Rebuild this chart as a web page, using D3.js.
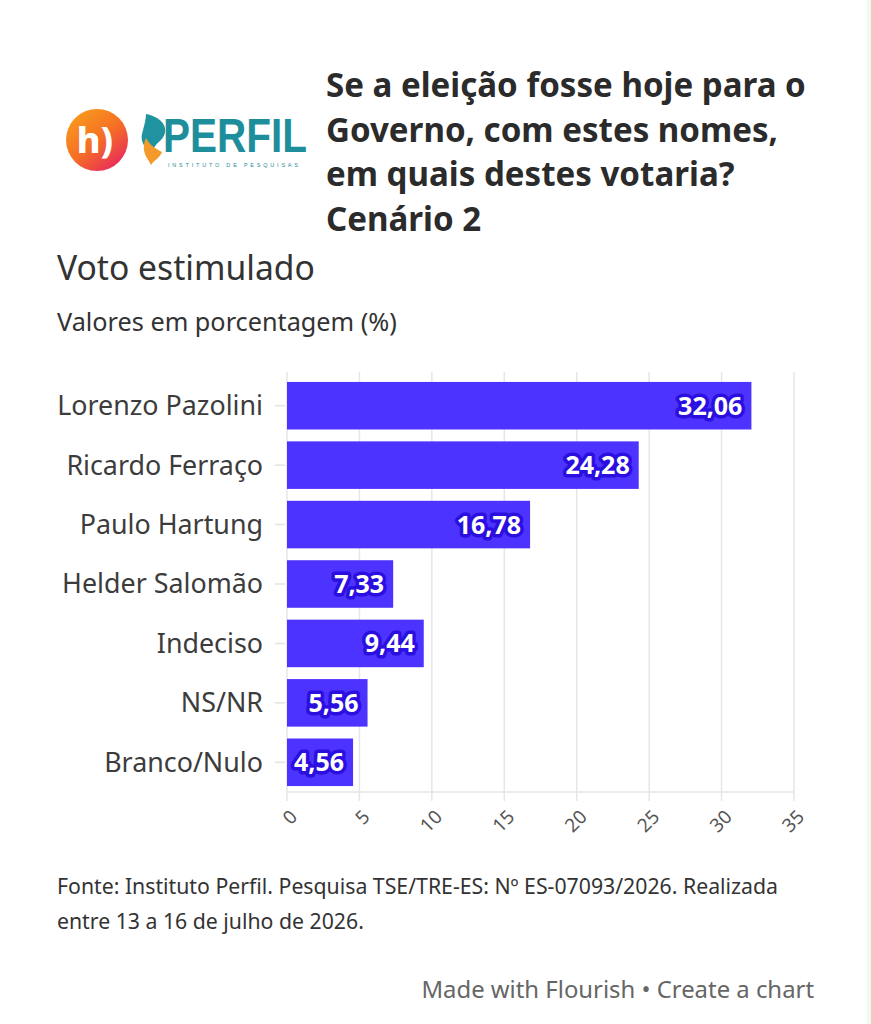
<!DOCTYPE html>
<html>
<head>
<meta charset="utf-8">
<script src="https://cdn.jsdelivr.net/npm/d3@7"></script>
<style>
  body { margin: 0; background: #fff; }
  svg { display: block; }
  .grid line { stroke: #e6e6e6; stroke-width: 1.5; }
  .cat { fill: #3c3c3c; font-family: "Noto Sans", sans-serif; }
  .tick-lbl { fill: #555; font-family: "Noto Sans", sans-serif; }
  .val { font-family: "Noto Sans", sans-serif; font-weight: 700; }
</style>
</head>
<body>
<div id="chart"></div>
<script>
// data
var candidates = ["Lorenzo Pazolini", "Ricardo Ferraço", "Paulo Hartung", "Helder Salomão", "Indeciso", "NS/NR", "Branco/Nulo"];
var votes = [32.06, 24.28, 16.78, 7.33, 9.44, 5.56, 4.56];
var xTicks = [0, 5, 10, 15, 20, 25, 30, 35];

var titleLines = ["Se a eleição fosse hoje para o", "Governo, com estes nomes,", "em quais destes votaria?", "Cenário 2"];
var footLines = ["Fonte: Instituto Perfil. Pesquisa TSE/TRE-ES: Nº ES-07093/2026. Realizada", "entre 13 a 16 de julho de 2026."];

var w = 871, h = 1024;
var barColor = "#4d33ff";

var svg = d3.select("#chart")
    .append("svg")
    .attr("width", w)
    .attr("height", h);

svg.append("rect").attr("width", w).attr("height", h).attr("fill", "#fff");
// faint green strip on the right edge
svg.append("rect").attr("x", w - 4).attr("width", 4).attr("height", h).attr("fill", "#eefbec");

// shrink/grow a text so it spans a given width
function fitWidth(sel, target, size) {
    sel.style("font-size", size + "px");
    var len = sel.node().getComputedTextLength();
    var s = size * target / len;
    sel.style("font-size", s + "px");
    return s;
}

// ---- logo ----
var defs = svg.append("defs");
var grad = defs.append("linearGradient")
    .attr("id", "logoGrad")
    .attr("x1", "0%").attr("y1", "0%").attr("x2", "80%").attr("y2", "100%");
grad.append("stop").attr("offset", "0%").attr("stop-color", "#f9a51a");
grad.append("stop").attr("offset", "55%").attr("stop-color", "#f57024");
grad.append("stop").attr("offset", "100%").attr("stop-color", "#e8275f");

var logo = svg.append("g");
logo.append("circle").attr("cx", 97).attr("cy", 140).attr("r", 31).attr("fill", "url(#logoGrad)");
logo.append("text")
    .attr("x", 95).attr("y", 153)
    .attr("text-anchor", "middle")
    .attr("fill", "#fff")
    .style("font-family", "Noto Sans, sans-serif")
    .style("font-weight", 800)
    .style("font-size", "36px")
    .text("h)");

// flame: teal top, orange bottom
logo.append("path")
    .attr("d", "M146,114 C166,118 170,132 160,141 C154,146 152,150 154,152 C146,150 140,143 142,134 C144,126 146,120 146,114 Z")
    .attr("fill", "#1f93a0");
logo.append("path")
    .attr("d", "M146,138 C150,146 158,150 162,152 C160,158 154,160 151,165 C148,158 140,152 146,138 Z")
    .attr("fill", "#f39a2b");

logo.append("text")
    .attr("x", 163).attr("y", 152)
    .attr("fill", "#1e8e9c")
    .attr("textLength", 144)
    .attr("lengthAdjust", "spacingAndGlyphs")
    .style("font-family", "Liberation Sans Narrow, Liberation Sans, sans-serif")
    .style("font-weight", 700)
    .style("font-size", "48px")
    .text("PERFIL");

logo.append("text")
    .attr("x", 168).attr("y", 167)
    .attr("fill", "#2a8c96")
    .attr("textLength", 130)
    .attr("lengthAdjust", "spacing")
    .style("font-family", "Liberation Sans, sans-serif")
    .style("font-size", "5.5px")
    .text("INSTITUTO DE PESQUISAS");

// ---- title ----
var tsize = null;
titleLines.forEach(function(t, i) {
    var tt = svg.append("text")
        .attr("x", 326)
        .attr("y", 97 + i * 44.5)
        .attr("fill", "#2b2b2b")
        .style("font-family", "Noto Sans, sans-serif")
        .style("font-weight", 700)
        .text(t);
    if (i == 0) tsize = fitWidth(tt, 480, 30);
    else tt.style("font-size", tsize + "px");
});

// subtitle and note
var sub = svg.append("text")
    .attr("x", 57).attr("y", 280)
    .attr("fill", "#333")
    .style("font-family", "Noto Sans, sans-serif")
    .text("Voto estimulado");
fitWidth(sub, 258, 29);

var note = svg.append("text")
    .attr("x", 57).attr("y", 331)
    .attr("fill", "#333")
    .style("font-family", "Noto Sans, sans-serif")
    .text("Valores em porcentagem (%)");
fitWidth(note, 340, 21);

// ---- scales ----
var xScale = d3.scaleLinear()
    .domain([0, 35])
    .range([287, 794]);
var yScale = d3.scaleBand()
    .domain(candidates)
    .range([376, 792])
    .paddingInner(0.2)
    .paddingOuter(0.1);

// gridlines
var grid = svg.append("g").attr("class", "grid");
grid.selectAll("line")
    .data(xTicks)
    .enter()
    .append("line")
    .attr("x1", function(d) { return xScale(d); })
    .attr("x2", function(d) { return xScale(d); })
    .attr("y1", 372)
    .attr("y2", 801);
grid.append("line")
    .attr("x1", xScale(0)).attr("x2", xScale(35))
    .attr("y1", 792).attr("y2", 792);

// x axis (tick labels rotated)
var xAxis = d3.axisBottom(xScale).tickValues(xTicks).tickSize(0).tickPadding(0);
var xa = svg.append("g")
    .attr("transform", "translate(0,800)")
    .call(xAxis);
xa.select(".domain").remove();
xa.selectAll("text")
    .attr("class", "tick-lbl")
    .attr("fill", null)
    .style("font-size", "19px")
    .attr("text-anchor", "end")
    .attr("dy", null)
    .attr("y", 0)
    .attr("transform", "translate(11,18) rotate(-45)");

// y axis
var yAxis = d3.axisLeft(yScale).tickSize(10).tickPadding(12);
var ya = svg.append("g")
    .attr("transform", "translate(285,0)")
    .call(yAxis);
ya.select(".domain").remove();
ya.selectAll(".tick line").attr("stroke", "#e3e3e3").attr("stroke-width", 1.5);
ya.selectAll("text")
    .attr("class", "cat")
    .attr("fill", null)
    .attr("dy", "0.35em");
var catSize = null;
ya.selectAll("text").filter(function() { return this.textContent == candidates[0]; })
    .each(function() { catSize = fitWidth(d3.select(this), 206, 24); });
ya.selectAll("text").style("font-size", catSize + "px");

// bars
var bars = svg.append("g");
bars.selectAll("rect")
    .data(candidates)
    .enter()
    .append("rect")
    .attr("x", xScale(0))
    .attr("y", function(d) { return yScale(d); })
    .attr("width", function(d, i) { return xScale(votes[i]) - xScale(0); })
    .attr("height", yScale.bandwidth())
    .attr("fill", barColor);

// value labels with halo
var fmt = function(v) { return d3.format(".2f")(v).replace(".", ","); };
var vals = svg.append("g");
vals.selectAll("text")
    .data(candidates)
    .enter()
    .append("text")
    .attr("class", "val")
    .attr("x", function(d, i) { return xScale(votes[i]) - 9; })
    .attr("y", function(d) { return yScale(d) + yScale.bandwidth() / 2; })
    .attr("dy", "0.36em")
    .attr("text-anchor", "end")
    .style("font-size", "25px")
    .attr("fill", "#fff")
    .attr("stroke", "#2a0fe0")
    .attr("stroke-width", 7)
    .attr("stroke-linejoin", "round")
    .attr("paint-order", "stroke")
    .text(function(d, i) { return fmt(votes[i]); });

// footer
var fsize = null;
footLines.forEach(function(t, i) {
    var ft = svg.append("text")
        .attr("x", 57)
        .attr("y", 894 + i * 35)
        .attr("fill", "#333")
        .style("font-family", "Noto Sans, sans-serif")
        .text(t);
    if (i == 0) fsize = fitWidth(ft, 721, 18);
    else ft.style("font-size", fsize + "px");
});

var made = svg.append("text")
    .attr("x", 814).attr("y", 998)
    .attr("text-anchor", "end")
    .attr("fill", "#666")
    .style("font-family", "Noto Sans, sans-serif")
    .text("Made with Flourish • Create a chart");
fitWidth(made, 393, 20);
</script>
</body>
</html>
